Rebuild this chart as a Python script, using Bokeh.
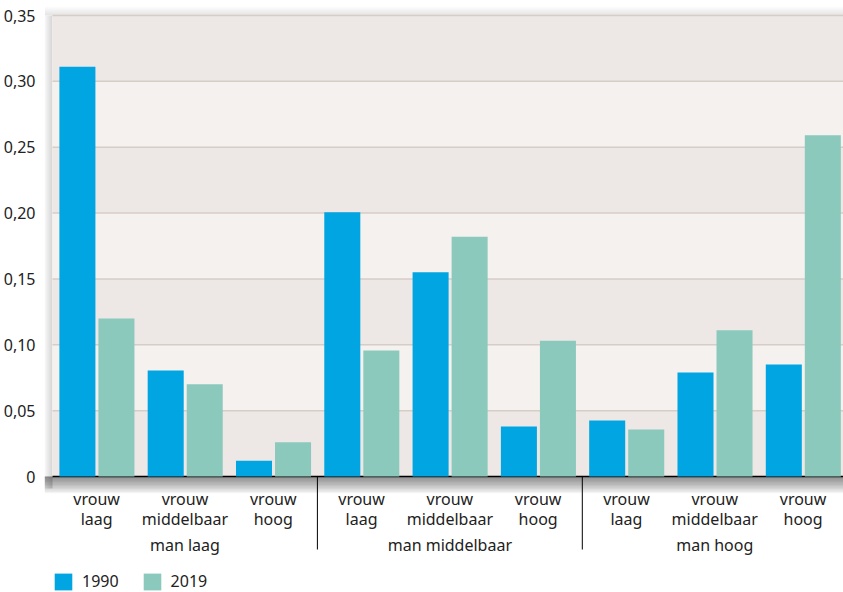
from bokeh.plotting import figure
from bokeh.models import Range1d, FixedTicker, Legend, LegendItem, ColumnDataSource
from bokeh.core.properties import value
from bokeh.embed import file_html
from bokeh.resources import INLINE

# ---- data ----
groups = ["man laag", "man middelbaar", "man hoog"]
subgroups = ["vrouw laag", "vrouw middelbaar", "vrouw hoog"]
years = ["1990", "2019"]
vals_1990 = [0.311, 0.0805, 0.012, 0.2006, 0.155, 0.038, 0.0426, 0.079, 0.085]
vals_2019 = [0.120, 0.070, 0.026, 0.0957, 0.182, 0.103, 0.0357, 0.111, 0.259]
y_ticks = [0, 0.05, 0.10, 0.15, 0.20, 0.25, 0.30, 0.35]
y_tick_labels = ["0", "0,05", "0,10", "0,15", "0,20", "0,25", "0,30", "0,35"]

# ---- style ----
FONT = "Noto Sans"
TXT = "#222222"
C1990 = "#00a5e2"
C2019 = "#8bc9bd"
BAND_DARK = "#ede8e5"
BAND_LIGHT = "#f5f1ee"
GRID = "#d6cdc7"

W, H = 843, 592
BORDER_LEFT = 44
n_sub = len(groups) * len(subgroups)
KX = 88.3
KY = 461 / 0.35
x_start = -8 / KX
x_end = (W - 52) / KX
y_end = 0.35 + 15 / KY
y_start = -(H - 476) / KY

p = figure(width=W, height=H, output_backend="svg", toolbar_location=None,
           x_range=Range1d(x_start, x_end), y_range=Range1d(y_start, y_end),
           min_border_left=BORDER_LEFT, min_border_right=0,
           min_border_top=0, min_border_bottom=0)
p.outline_line_color = None
p.background_fill_color = "white"
p.border_fill_color = "white"
p.xaxis.visible = False
p.xgrid.visible = False
p.ygrid.visible = False

ax = p.yaxis[0]
ax.ticker = FixedTicker(ticks=y_ticks)
ax.major_label_overrides = {t: l for t, l in zip(y_ticks, y_tick_labels)}
ax.axis_line_color = None
ax.major_tick_line_color = None
ax.minor_tick_line_color = None
ax.major_label_standoff = 3
ax.major_label_text_font = FONT
ax.major_label_text_font_size = "16px"
ax.major_label_text_color = TXT

top = y_ticks[-1]

# ---- shadow (decoration) ----
for i in range(1, 13):
    d = i * 1.4
    p.quad(left=x_start, right=n_sub, top=0, bottom=-d / KY,
           fill_color="black", fill_alpha=0.045, line_color=None)
for i in range(1, 9):
    d = i * 1.1
    p.quad(left=-d / KX, right=0, top=top, bottom=-12 / KY,
           fill_color="black", fill_alpha=0.018, line_color=None)
for i in range(1, 10):
    d = i * 1.0
    p.quad(left=x_start, right=n_sub, top=top + d / KY, bottom=top,
           fill_color="black", fill_alpha=0.012, line_color=None)

# ---- bands and grid ----
band_bottoms = y_ticks[:-1]
band_tops = y_ticks[1:]
band_colors = [BAND_DARK if i % 2 == 0 else BAND_LIGHT for i in range(len(band_bottoms))]
p.quad(left=0, right=n_sub, bottom=band_bottoms, top=band_tops,
       fill_color=band_colors, line_color=None)
p.segment(x0=0, x1=n_sub, y0=y_ticks[1:], y1=y_ticks[1:], line_color=GRID, line_width=1.5)
p.segment(x0=0, x1=n_sub, y0=0, y1=0, line_color="black", line_width=1.5)

# ---- bars ----
centers = [i + 0.5 for i in range(n_sub)]
src = ColumnDataSource(dict(
    x1=[c - 0.218 for c in centers], x2=[c + 0.224 for c in centers],
    v1=vals_1990, v2=vals_2019))
r1 = p.vbar(x="x1", top="v1", bottom=0, width=0.408, source=src,
            fill_color=C1990, line_color=None)
r2 = p.vbar(x="x2", top="v2", bottom=0, width=0.408, source=src,
            fill_color=C2019, line_color=None)

# ---- category labels ----
line1 = [s.split(" ")[0] for s in subgroups] * len(groups)
line2 = [s.split(" ", 1)[1] for s in subgroups] * len(groups)
p.text(x=centers, y=-22 / KY, text=line1, text_align="center", text_baseline="middle",
       text_font=value(FONT), text_font_size="16px", text_color=TXT)
p.text(x=centers, y=-42 / KY, text=line2, text_align="center", text_baseline="middle",
       text_font=value(FONT), text_font_size="16px", text_color=TXT)
ns = len(subgroups)
gcenters = [g * ns + ns / 2 for g in range(len(groups))]
p.text(x=gcenters, y=-68 / KY, text=groups, text_align="center", text_baseline="middle",
       text_font=value(FONT), text_font_size="16px", text_color=TXT)
seps = [g * ns for g in range(1, len(groups))]
p.segment(x0=seps, x1=seps, y0=0, y1=-73 / KY, line_color="black", line_width=1)

# ---- legend ----
legend = Legend(items=[LegendItem(label=years[0], renderers=[r1]),
                       LegendItem(label=years[1], renderers=[r2])],
                orientation="horizontal", location=(8, 0),
                glyph_width=22, glyph_height=21, label_standoff=8, spacing=22,
                padding=0, margin=0, border_line_alpha=0, background_fill_alpha=0,
                label_text_font=FONT, label_text_font_size="16px", label_text_color=TXT)
p.add_layout(legend)

open("out.html", "w").write(file_html(p, INLINE))
